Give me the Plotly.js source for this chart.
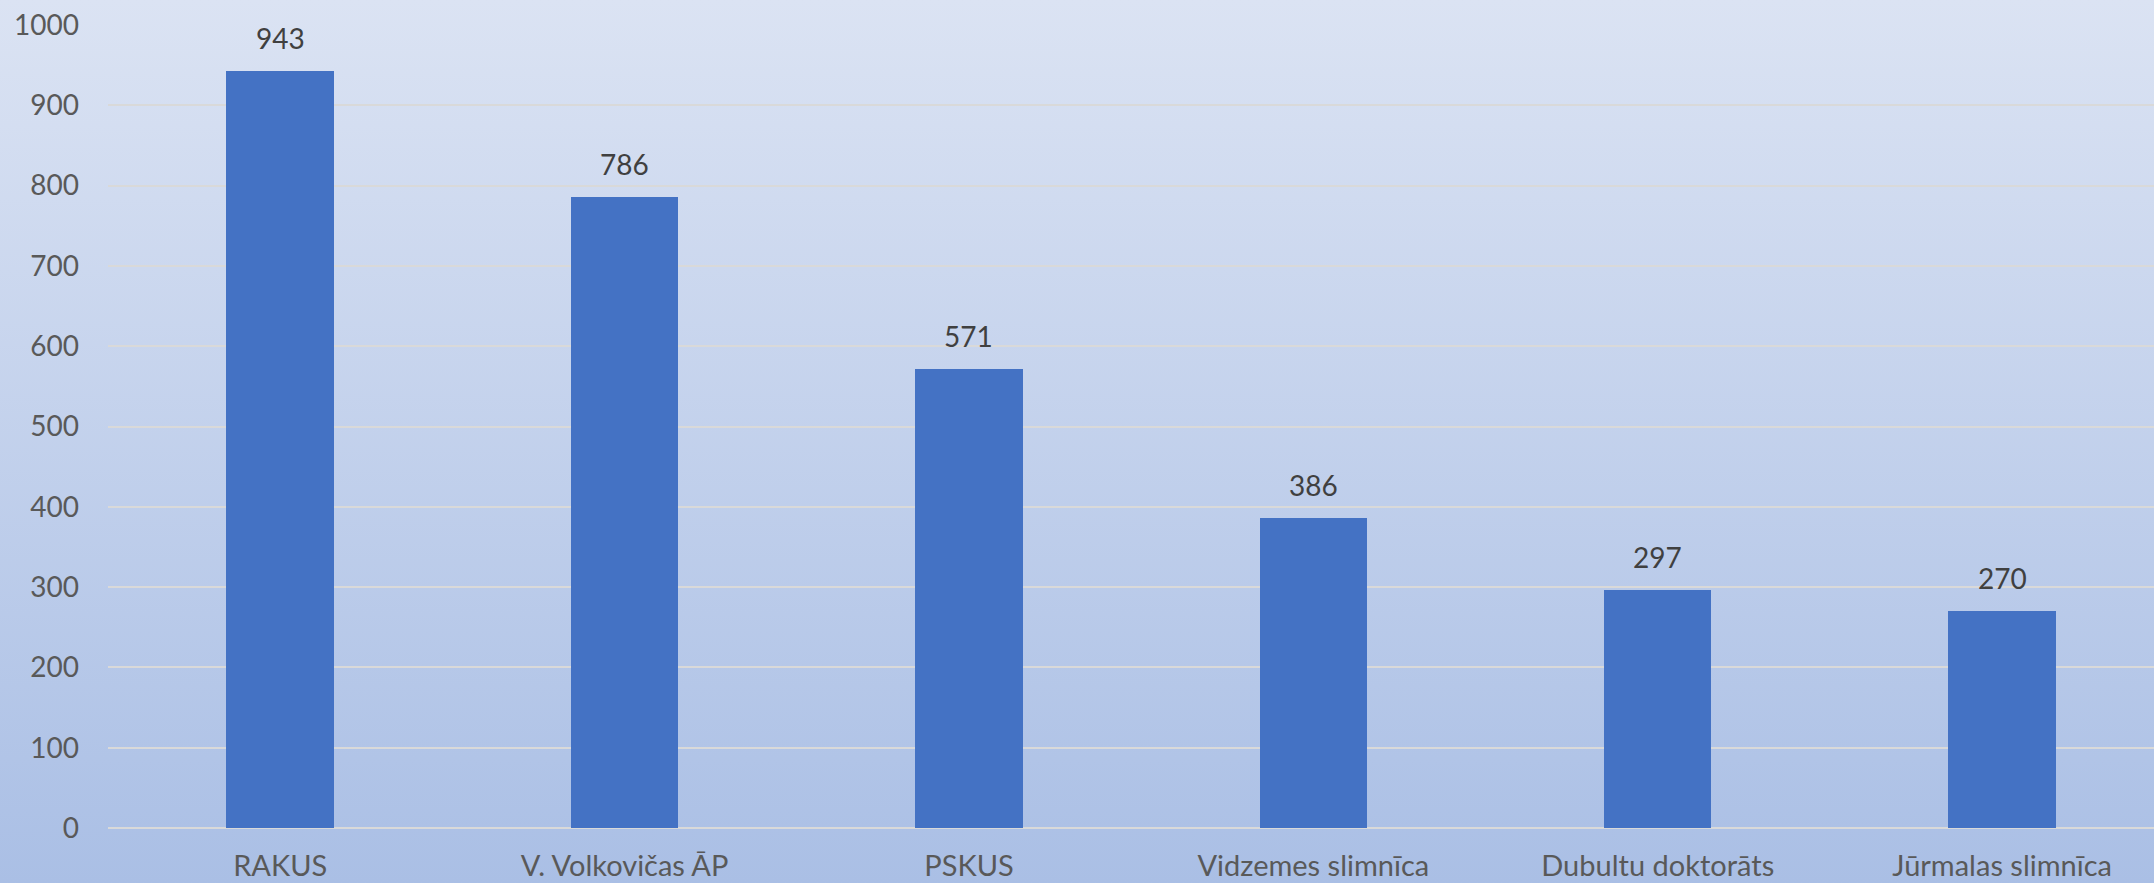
<!DOCTYPE html>
<html>
<head>
<meta charset="utf-8">
<script src="https://cdn.plot.ly/plotly-3.0.1.min.js"></script>
<style>
  html, body { margin: 0; padding: 0; }
  #chart { width: 2154px; height: 883px; background: linear-gradient(to bottom, #dbe3f3 0%, #aabfe5 100%); }
</style>
</head>
<body>
<div id="chart"></div>
<script>
const categories = ["RAKUS", "V. Volkovičas ĀP", "PSKUS", "Vidzemes slimnīca", "Dubultu doktorāts", "Jūrmalas slimnīca"];
const values = [943, 786, 571, 386, 297, 270];
const yTicks = [0, 100, 200, 300, 400, 500, 600, 700, 800, 900, 1000];

const FONT = "Lato, 'Liberation Sans', sans-serif";

const trace = {
  type: "bar",
  x: categories,
  y: values,
  width: 0.312,
  marker: { color: "#4472C4", line: { width: 0 } },
  hoverinfo: "x+y"
};

const annotations = categories.map((c, i) => ({
  x: c,
  y: values[i],
  xref: "x",
  yref: "y",
  text: String(values[i]),
  showarrow: false,
  yanchor: "bottom",
  yshift: 14,
  font: { family: FONT, size: 28, color: "#404040" }
}));

const layout = {
  width: 2154,
  height: 883,
  margin: { l: 108, r: 0, t: 25, b: 55 },
  paper_bgcolor: "rgba(0,0,0,0)",
  plot_bgcolor: "rgba(0,0,0,0)",
  showlegend: false,
  bargap: 0,
  xaxis: {
    type: "category",
    range: [-0.5, 5.441],
    showgrid: false,
    showline: false,
    zeroline: false,
    ticks: "",
    ticklabelstandoff: 18,
    tickfont: { family: FONT, size: 29, color: "#595959" }
  },
  yaxis: {
    range: [0, 1000],
    tickvals: yTicks,
    ticktext: yTicks.map(String),
    showgrid: true,
    gridcolor: "#d9d9d9",
    gridwidth: 2,
    zeroline: true,
    zerolinecolor: "#d9d9d9",
    zerolinewidth: 2,
    showline: false,
    ticks: "",
    ticklabelstandoff: 28,
    tickfont: { family: FONT, size: 28, color: "#595959" }
  },
  annotations: annotations
};

Plotly.newPlot("chart", [trace], layout, { displayModeBar: false, staticPlot: true });
</script>
</body>
</html>
